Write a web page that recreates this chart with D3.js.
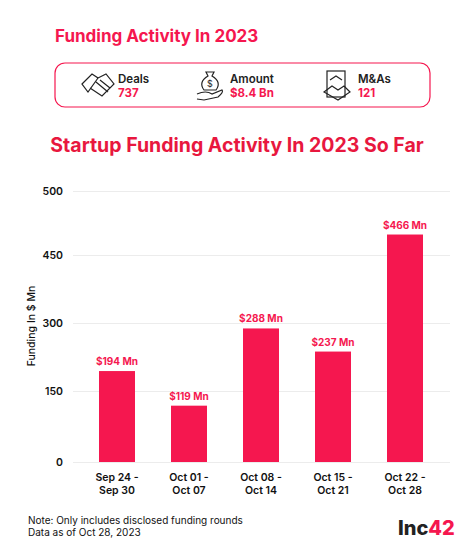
<!DOCTYPE html>
<html lang="en">
<head>
<meta charset="UTF-8">
<style>
  body { margin: 0; background: #fff; }
  svg { font-family: Inter, "Open Sans", sans-serif; }
</style>
</head>
<body>
<div id="graphic"></div>
<script src="https://cdn.jsdelivr.net/npm/d3@7"></script>
<script>
var width = 474, height = 550;
var pink = '#f5174f';

// data
var weeks = [['Sep 24 -', 'Sep 30'], ['Oct 01 -', 'Oct 07'], ['Oct 08 -', 'Oct 14'], ['Oct 15 -', 'Oct 21'], ['Oct 22 -', 'Oct 28']];
var funding = [194, 119, 288, 237, 466];
var ticks = [0, 150, 300, 450, 500];
var statLabels = ['Deals', 'Amount', 'M&As'];
var statValues = ['737', '$8.4 Bn', '121'];

var svg = d3.select('#graphic').append('svg')
    .attr('width', width).attr('height', height);

svg.append('text').attr('x', 55).attr('y', 42)
    .attr('fill', pink).attr('font-size', 17).attr('font-weight', 700)
    .text('Funding Activity In 2023');

svg.append('rect').attr('x', 55).attr('y', 63).attr('width', 375).attr('height', 44)
    .attr('rx', 10).attr('fill', 'none').attr('stroke', pink).attr('stroke-width', 1.2);

var statX = [118, 230, 358];
statLabels.forEach(function(l, i) {
    var g = svg.append('g').attr('transform', 'translate(' + statX[i] + ',0)');
    // rough icons
    var ic = g.append('g').attr('fill', 'none').attr('stroke', '#222').attr('stroke-width', 1.2);
    if (i == 0) {
        ic.append('path').attr('d', 'M-36,84 L-26,74 L-20,78 L-30,92 Z M-20,78 L-12,74 L-4,84 L-16,96 L-28,88 M-22,82 L-10,92 M-18,80 L-8,88');
    } else if (i == 1) {
        ic.append('path').attr('d', 'M-24,72 L-16,72 L-18,76 Q-8,82 -14,90 L-26,90 Q-32,82 -22,76 Z');
        ic.append('path').attr('d', 'M-33,94 Q-24,90 -18,94 L-8,90 Q-6,92 -12,97 L-26,100 L-33,99');
        ic.append('text').attr('x', -20).attr('y', 87).attr('text-anchor', 'middle')
            .attr('font-size', 9).attr('fill', '#222').attr('stroke', 'none').text('$');
    } else {
        ic.append('rect').attr('x', -31).attr('y', 71).attr('width', 18).attr('height', 26);
        ic.append('path').attr('d', 'M-28,80 L-22,76 L-16,80 M-34,92 L-26,86 L-20,90 L-14,86 L-8,92 L-20,100 Z');
    }
    g.append('text').attr('x', 0).attr('y', 83).attr('font-size', 11.5).attr('font-weight', 600)
        .attr('fill', '#222').text(l);
    g.append('text').attr('x', 0).attr('y', 97).attr('font-size', 11.5).attr('font-weight', 700)
        .attr('fill', pink).text(statValues[i]);
});

svg.append('text').attr('x', 237).attr('y', 152).attr('text-anchor', 'middle')
    .attr('fill', '#e8173e').attr('font-size', 19.5).attr('font-weight', 700)
    .text('Startup Funding Activity In 2023 So Far');

var left = 73, right = 450;
var y = d3.scaleLinear().domain(ticks).range([462, 391, 323, 255, 191]);
var x = d3.scaleBand().domain(d3.range(weeks.length)).range([63, 459]).padding(0.5);

var yAxis = svg.append('g').attr('transform', 'translate(' + left + ',0)')
    .call(d3.axisLeft(y).tickValues(ticks).tickSize(-(right - left)).tickPadding(10));
yAxis.select('.domain').remove();
yAxis.selectAll('line').attr('stroke', '#ececec');
yAxis.selectAll('text').attr('font-size', 10.5).attr('font-weight', 600).attr('fill', '#111')
    .attr('font-family', 'Inter, sans-serif');

svg.append('text').attr('transform', 'translate(35,' + 326 + ') rotate(-90)')
    .attr('text-anchor', 'middle').attr('font-size', 10.5).attr('font-weight', 500)
    .attr('fill', '#111').text('Funding In $ Mn');

svg.selectAll('.bar').data(funding).join('rect').attr('class', 'bar')
    .attr('x', function(d, i) { return x(i); })
    .attr('width', x.bandwidth())
    .attr('y', function(d) { return y(d); })
    .attr('height', function(d) { return y(0) - y(d); })
    .attr('fill', pink);

svg.selectAll('.lbl').data(funding).join('text').attr('class', 'lbl')
    .attr('x', function(d, i) { return x(i) + x.bandwidth() / 2; })
    .attr('y', function(d) { return y(d) - 6; })
    .attr('text-anchor', 'middle').attr('font-size', 10).attr('font-weight', 700)
    .attr('fill', pink).text(function(d) { return '$' + d + ' Mn'; });

weeks.forEach(function(w, i) {
    var t = svg.append('text').attr('text-anchor', 'middle').attr('font-size', 10.5)
        .attr('font-weight', 600).attr('fill', '#111');
    t.append('tspan').attr('x', x(i) + x.bandwidth() / 2).attr('y', 481).text(w[0]);
    t.append('tspan').attr('x', x(i) + x.bandwidth() / 2).attr('y', 494).text(w[1]);
});

svg.append('text').attr('x', 28).attr('y', 524).attr('font-size', 10).attr('fill', '#111')
    .text('Note: Only includes disclosed funding rounds');
svg.append('text').attr('x', 28).attr('y', 536).attr('font-size', 10).attr('fill', '#111')
    .text('Data as of Oct 28, 2023');

var logo = svg.append('text').attr('x', 398).attr('y', 535).attr('font-size', 20).attr('font-weight', 800)
    .attr('fill', '#222');
logo.append('tspan').text('Inc');
logo.append('tspan').attr('fill', pink).text('42');
</script>
</body>
</html>
